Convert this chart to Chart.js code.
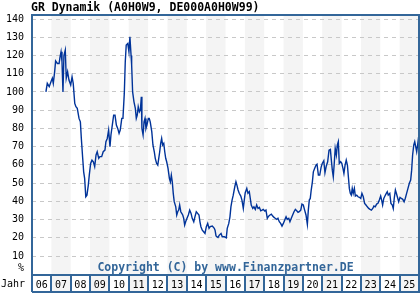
<!DOCTYPE html>
<html>
<head>
<meta charset="utf-8">
<script src="https://cdn.jsdelivr.net/npm/chart.js@4.4.1/dist/chart.umd.min.js"></script>
<style>
  html, body { margin: 0; padding: 0; background: #fff; }
  #wrap { width: 420px; height: 300px; }
</style>
</head>
<body>
<div id="wrap"><canvas id="fondsChart" width="420" height="300"></canvas></div>
<script>
const chartTitle = "GR Dynamik (A0H0W9, DE000A0H0W99)";
const copyrightText = "Copyright (C) by www.Finanzpartner.DE";
const firstYear = 2006;
const yearLabels = ["06", "07", "08", "09", "10", "11", "12", "13", "14", "15",
  "16", "17", "18", "19", "20", "21", "22", "23", "24", "25"];
const yTicks = [10, 20, 30, 40, 50, 60, 70, 80, 90, 100, 110, 120, 130, 140];

// decimal year / price in %
const dates = [
  2006.72, 2006.79, 2006.89, 2006.98, 2007.05, 2007.10, 2007.17, 2007.22, 2007.31, 2007.40,
  2007.45, 2007.50, 2007.55, 2007.60, 2007.65, 2007.72, 2007.77, 2007.84, 2007.91, 2008.00,
  2008.07, 2008.13, 2008.21, 2008.27, 2008.34, 2008.43, 2008.50, 2008.55, 2008.62, 2008.67,
  2008.72, 2008.78, 2008.84, 2008.91, 2008.96, 2009.03, 2009.10, 2009.17, 2009.24, 2009.31,
  2009.37, 2009.45, 2009.51, 2009.60, 2009.68, 2009.77, 2009.82, 2009.89, 2009.96, 2010.03,
  2010.08, 2010.15, 2010.22, 2010.29, 2010.36, 2010.43, 2010.50, 2010.56, 2010.64, 2010.70,
  2010.77, 2010.82, 2010.87, 2010.95, 2011.01, 2011.06, 2011.12, 2011.15, 2011.20, 2011.27,
  2011.34, 2011.39, 2011.44, 2011.49, 2011.55, 2011.60, 2011.65, 2011.68, 2011.74, 2011.79,
  2011.84, 2011.89, 2011.94, 2012.01, 2012.06, 2012.11, 2012.19, 2012.25, 2012.32, 2012.37,
  2012.44, 2012.50, 2012.55, 2012.60, 2012.65, 2012.70, 2012.75, 2012.81, 2012.86, 2012.91,
  2012.96, 2013.03, 2013.10, 2013.15, 2013.20, 2013.25, 2013.30, 2013.35, 2013.43, 2013.48,
  2013.53, 2013.58, 2013.63, 2013.69, 2013.74, 2013.79, 2013.84, 2013.89, 2013.94, 2014.01,
  2014.08, 2014.15, 2014.22, 2014.28, 2014.36, 2014.42, 2014.49, 2014.56, 2014.63, 2014.68,
  2014.73, 2014.80, 2014.87, 2014.94, 2015.01, 2015.08, 2015.15, 2015.21, 2015.32, 2015.42,
  2015.46, 2015.51, 2015.61, 2015.68, 2015.77, 2015.83, 2015.94, 2016.04, 2016.09, 2016.17,
  2016.23, 2016.28, 2016.34, 2016.40, 2016.48, 2016.54, 2016.59, 2016.65, 2016.71, 2016.79,
  2016.85, 2016.92, 2016.97, 2017.02, 2017.10, 2017.16, 2017.23, 2017.28, 2017.33, 2017.41,
  2017.47, 2017.54, 2017.61, 2017.68, 2017.75, 2017.82, 2017.89, 2017.95, 2018.03, 2018.09,
  2018.16, 2018.23, 2018.30, 2018.37, 2018.44, 2018.51, 2018.57, 2018.65, 2018.71, 2018.78,
  2018.85, 2018.92, 2018.99, 2019.06, 2019.13, 2019.19, 2019.27, 2019.33, 2019.40, 2019.47,
  2019.54, 2019.61, 2019.68, 2019.75, 2019.81, 2019.89, 2019.95, 2020.02, 2020.09, 2020.16,
  2020.23, 2020.28, 2020.33, 2020.38, 2020.43, 2020.49, 2020.54, 2020.61, 2020.68, 2020.73,
  2020.80, 2020.87, 2020.94, 2021.00, 2021.08, 2021.14, 2021.21, 2021.28, 2021.35, 2021.42,
  2021.47, 2021.52, 2021.57, 2021.62, 2021.67, 2021.73, 2021.78, 2021.83, 2021.88, 2021.95,
  2022.01, 2022.07, 2022.12, 2022.18, 2022.24, 2022.30, 2022.35, 2022.40, 2022.45, 2022.50,
  2022.55, 2022.60, 2022.66, 2022.71, 2022.78, 2022.85, 2022.92, 2022.99, 2023.05, 2023.12,
  2023.19, 2023.26, 2023.33, 2023.40, 2023.47, 2023.54, 2023.61, 2023.67, 2023.74, 2023.81,
  2023.88, 2023.95, 2024.02, 2024.07, 2024.12, 2024.18, 2024.24, 2024.31, 2024.36, 2024.41,
  2024.49, 2024.55, 2024.62, 2024.67, 2024.72, 2024.78, 2024.83, 2024.88, 2024.95, 2025.02,
  2025.09, 2025.16, 2025.23, 2025.29, 2025.36, 2025.43, 2025.50, 2025.57, 2025.62, 2025.67,
  2025.73, 2025.78, 2025.83, 2025.88, 2025.93, 2025.98
];
const prices = [
  100, 104.7, 102.9, 105.6, 107.5, 104.7, 111, 117, 115.6, 115.6,
  119.3, 122, 116.6, 100, 120, 123, 107.5, 111, 106.5, 103.8,
  108.3, 104.7, 93.7, 91.9, 91, 85.5, 83.6, 74.5, 63.6, 56.2,
  52.6, 42.5, 43.4, 48.9, 54.4, 60.8, 62.6, 61.7, 59, 65.4,
  67.2, 63.6, 64.5, 64.5, 67.2, 68.1, 72.7, 74.5, 79.1, 70,
  76.4, 81.8, 87.3, 87.3, 81.8, 80, 77.3, 79.1, 85.5, 85.5,
  99.2, 116.6, 125.7, 126.6, 122, 130.3, 120, 114.8, 100, 94.6,
  91, 85.5, 87.3, 91.9, 89.1, 90.1, 97.4, 80, 76.4, 83.6,
  85.5, 80, 81.8, 85.5, 85.5, 83.6, 78.2, 70.9, 67.2, 63.6,
  60.8, 59.9, 63.6, 67.2, 71.8, 74.5, 70.9, 71.8, 67.2, 63.6,
  61.7, 58.1, 52.6, 50.7, 54.4, 50.7, 44.4, 39.8, 37, 32.5,
  34.3, 35.2, 38, 34.3, 33.4, 32.5, 30.7, 27, 28.8, 30.7,
  32.5, 35.2, 33.4, 30.7, 28.8, 31.5, 34.3, 33.4, 32.5, 28.8,
  26.1, 24.2, 23.3, 22.4, 26.1, 27.9, 25.2, 26.1, 26.4, 25.2,
  24.2, 21, 20.2, 21.5, 22.4, 20.6, 20.6, 20, 25.2, 27.9,
  31.5, 37, 40.7, 43.4, 48, 50.7, 48.9, 46.2, 44.4, 42.9,
  40.7, 36.1, 40.7, 44.7, 47.1, 44.4, 45.3, 41.6, 38, 36.1,
  37, 35.6, 38, 36.1, 36.7, 34.8, 35.2, 35.6, 34.7, 35.2,
  30.7, 31.9, 32.5, 33, 31.9, 31.2, 30.7, 30.1, 30.7, 28.8,
  27.9, 26.4, 27.9, 29.7, 31.5, 30.1, 30.7, 28.8, 30.7, 32.5,
  34.3, 35.6, 34.8, 34, 34.3, 35.2, 38.5, 38, 35.2, 32.5,
  27.4, 35.2, 40.7, 41.6, 46.2, 50.7, 56.2, 58.1, 59.9, 60.4,
  54.4, 54.4, 58.6, 60.8, 62.3, 55.7, 59.4, 61.7, 68.1, 68.5,
  62.6, 57.1, 53.5, 60.8, 69, 65.4, 70.9, 72.7, 60.8, 61.7,
  60.8, 58.1, 55.3, 59.9, 62.6, 59.9, 53.5, 47.1, 44.4, 43.4,
  47.1, 44.4, 47.1, 42.9, 43.4, 42.5, 42.2, 41.6, 44.4, 42.5,
  38.9, 38, 37, 36.1, 35.6, 35.2, 36.1, 37.4, 37, 38.5,
  38.9, 40.7, 42.9, 40.7, 38, 41.6, 42.9, 44.4, 45.3, 43.4,
  44.4, 38.9, 38, 36.1, 41.6, 46.2, 44.4, 42.5, 39.8, 42.2,
  41.6, 41.1, 39.8, 41.6, 44.4, 47.1, 49.9, 51.7, 57.1, 65.4,
  70.9, 72.7, 70, 67.2, 70.9, 75.4
];

const monoFont = "'DejaVu Sans Mono', monospace";
const frameColor = "#336699";
const shadeColor = "#f4f4f4";
const boxBottom = 292;

const framePlugin = {
  id: "frame",
  beforeDraw(chart) {
    const { ctx, chartArea, scales } = chart;
    const x = scales.x;
    ctx.save();
    ctx.fillStyle = shadeColor;
    yearLabels.forEach(function (lbl, i) {
      if (i % 2 === 1) {
        const x0 = x.getPixelForValue(firstYear + i);
        const x1 = x.getPixelForValue(firstYear + i + 1);
        ctx.fillRect(x0, chartArea.top, x1 - x0, boxBottom - chartArea.top);
      }
    });
    ctx.restore();
  },
  afterDraw(chart) {
    const { ctx, chartArea, scales } = chart;
    const x = scales.x;
    const y = scales.y;
    ctx.save();

    // title
    ctx.fillStyle = "#000";
    ctx.font = "bold 11.5px " + monoFont;
    ctx.textAlign = "left";
    ctx.textBaseline = "middle";
    ctx.fillText(chartTitle, 31, 8);

    // copyright
    ctx.fillStyle = frameColor;
    ctx.textAlign = "center";
    ctx.fillText(copyrightText, (chartArea.left + chartArea.right) / 2, 268);

    // "%" and "Jahr"
    ctx.fillStyle = "#000";
    ctx.font = "10px " + monoFont;
    ctx.textAlign = "right";
    ctx.fillText("%", 24, y.getPixelForValue(0) - 6);
    ctx.textAlign = "left";
    ctx.fillText("Jahr", 1, 284);

    // frame + year boxes
    ctx.strokeStyle = frameColor;
    ctx.lineWidth = 2;
    ctx.beginPath();
    ctx.moveTo(chartArea.left, boxBottom);
    ctx.lineTo(chartArea.left, chartArea.top);
    ctx.lineTo(chartArea.right, chartArea.top);
    ctx.lineTo(chartArea.right, boxBottom);
    ctx.lineTo(chartArea.left, boxBottom);
    ctx.moveTo(chartArea.left, chartArea.bottom);
    ctx.lineTo(chartArea.right, chartArea.bottom);
    for (let i = 1; i < yearLabels.length; i++) {
      const xp = Math.round(x.getPixelForValue(firstYear + i));
      ctx.moveTo(xp, chartArea.bottom);
      ctx.lineTo(xp, boxBottom);
    }
    ctx.stroke();
    ctx.restore();
  }
};

const ctx = document.getElementById("fondsChart").getContext("2d");
const fondsChart = new Chart(ctx, {
  type: "line",
  data: {
    datasets: [
      {
        label: "GR Dynamik",
        data: dates.map((d, i) => ({ x: d, y: prices[i] })),
        borderColor: "#003399",
        borderWidth: 1.4,
        pointRadius: 0,
        tension: 0,
        fill: false,
      },
    ],
  },
  options: {
    responsive: false,
    animation: false,
    layout: { padding: { top: 15, right: 1, left: 0, bottom: 0 } },
    plugins: {
      legend: { display: false },
      title: { display: false },
      tooltip: { enabled: false },
    },
    scales: {
      x: {
        type: "linear",
        min: firstYear,
        max: firstYear + yearLabels.length,
        afterBuildTicks: (scale) => {
          scale.ticks = yearLabels.map((l, i) => ({ value: firstYear + i + 0.5 }));
        },
        afterFit: (scale) => { scale.height = 25; },
        grid: { display: false, drawTicks: false },
        border: { display: false },
        ticks: {
          autoSkip: false,
          maxRotation: 0,
          padding: 4,
          color: "#000",
          font: { family: monoFont, size: 10 },
          callback: (v, i) => yearLabels[i],
        },
      },
      y: {
        min: -0.4,
        max: 142.2,
        afterBuildTicks: (scale) => {
          scale.ticks = yTicks.map((v) => ({ value: v }));
        },
        afterFit: (scale) => { scale.width = 32; },
        grid: { color: "#c8c8c8", lineWidth: 1, drawTicks: false, tickLength: 0 },
        border: { display: false, dash: [4, 4] },
        ticks: {
          padding: 8,
          color: "#000",
          font: { family: monoFont, size: 10 },
        },
      },
    },
  },
  plugins: [framePlugin],
});
</script>
</body>
</html>
